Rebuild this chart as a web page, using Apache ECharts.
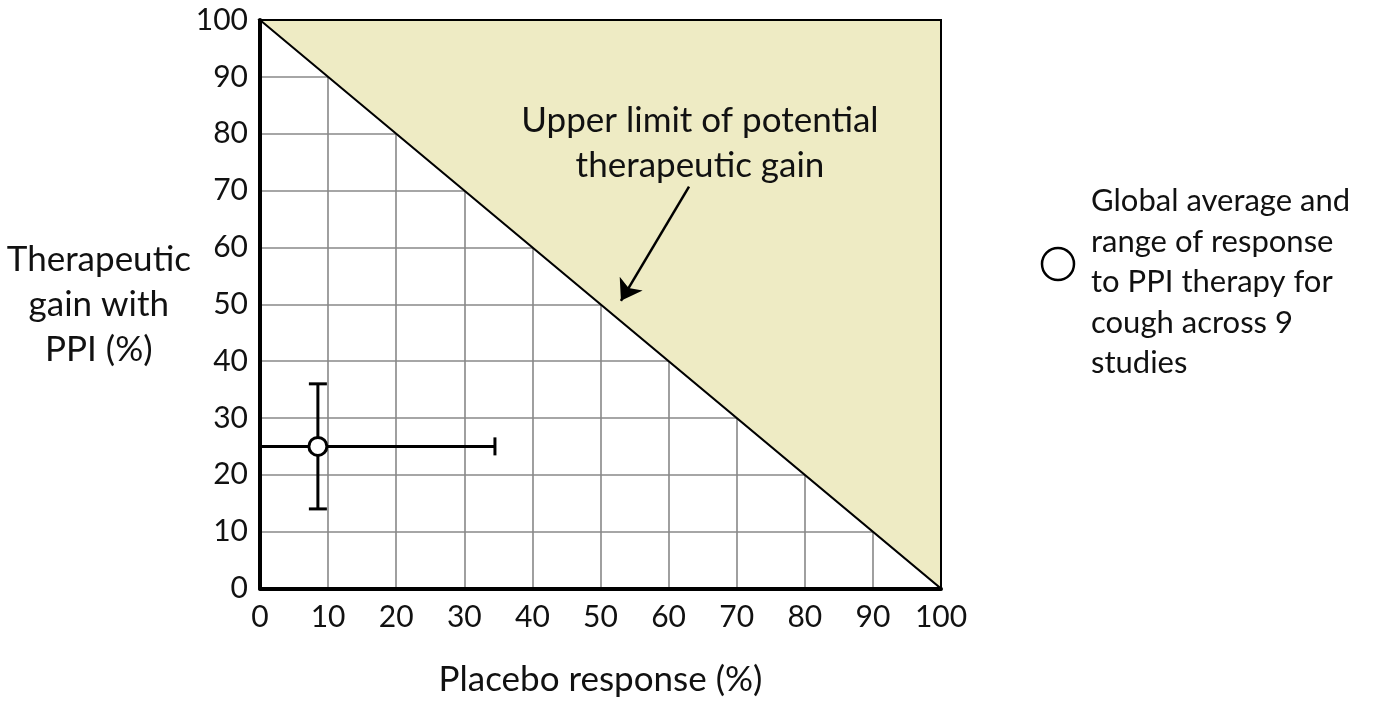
<!DOCTYPE html>
<html>
<head>
<meta charset="utf-8">
<script src="https://cdn.jsdelivr.net/npm/echarts@6/dist/echarts.min.js"></script>
<style>
  html, body { margin: 0; padding: 0; background: #fff; }
  #chart { width: 1375px; height: 702px; }
</style>
</head>
<body>
<div id="chart"></div>
<script>
// data
const pointX = [8.5];
const pointY = [25];
const xLow = [0];
const xHigh = [34.5];
const yLow = [14];
const yHigh = [36];

// region above the diagonal (upper limit of gain)
const limitX = [0, 100, 100];
const limitY = [100, 100, 0];

// annotation arrow, from text to the diagonal
const arrowFrom = [63, 70.7];
const arrowTo = [53, 50.6];

const axisMin = 0;
const axisMax = 100;
const tickStep = 10;

const FONT = 'Lato';

const chart = echarts.init(document.getElementById('chart'));

const option = {
  backgroundColor: '#ffffff',
  animation: false,
  textStyle: { fontFamily: FONT, color: '#111' },
  grid: { left: 260, right: 434, top: 20, bottom: 113 },
  xAxis: {
    type: 'value',
    min: axisMin, max: axisMax, interval: tickStep,
    name: 'Placebo response (%)',
    nameLocation: 'middle',
    nameGap: 91,
    nameTextStyle: { fontFamily: FONT, fontSize: 35, color: '#111', verticalAlign: 'middle' },
    axisLine: { show: true, onZero: false, lineStyle: { color: '#000', width: 4 } },
    axisTick: { show: false },
    axisLabel: { fontFamily: FONT, fontSize: 30, color: '#111', margin: 14 },
    splitLine: { show: true, lineStyle: { color: '#888', width: 1.6 } }
  },
  yAxis: {
    type: 'value',
    min: axisMin, max: axisMax, interval: tickStep,
    name: 'Therapeutic\ngain with\nPPI (%)',
    nameLocation: 'middle',
    nameRotate: 0,
    nameGap: 156,
    nameTextStyle: {
      fontFamily: FONT, fontSize: 35, color: '#111',
      align: 'center', verticalAlign: 'middle', lineHeight: 45,
      padding: [18, 0, 0, 0]
    },
    axisLine: { show: true, onZero: false, lineStyle: { color: '#000', width: 4 } },
    axisTick: { show: false },
    axisLabel: { fontFamily: FONT, fontSize: 30, color: '#111', margin: 12 },
    splitLine: { show: true, lineStyle: { color: '#888', width: 1.6 } }
  },
  series: [
    {
      // shaded triangle + its outline (top, right border and diagonal)
      type: 'custom',
      z: 2,
      silent: true,
      data: [0],
      renderItem: function (params, api) {
        const pts = limitX.map(function (x, i) { return api.coord([x, limitY[i]]); });
        return {
          type: 'polygon',
          shape: { points: pts },
          style: { fill: '#eeebc4', stroke: '#000', lineWidth: 2 }
        };
      }
    },
    {
      // error bars
      type: 'custom',
      z: 3,
      silent: true,
      data: pointX.map(function (x, i) { return [x, pointY[i], xLow[i], xHigh[i], yLow[i], yHigh[i]]; }),
      renderItem: function (params, api) {
        const l = api.coord([api.value(2), api.value(1)]);
        const r = api.coord([api.value(3), api.value(1)]);
        const b = api.coord([api.value(0), api.value(4)]);
        const t = api.coord([api.value(0), api.value(5)]);
        const cap = 9;
        const st = { stroke: '#000', lineWidth: 3 };
        return {
          type: 'group',
          children: [
            { type: 'line', shape: { x1: l[0], y1: l[1], x2: r[0], y2: r[1] }, style: st },
            { type: 'line', shape: { x1: r[0], y1: r[1] - cap, x2: r[0], y2: r[1] + cap }, style: st },
            { type: 'line', shape: { x1: b[0], y1: b[1], x2: t[0], y2: t[1] }, style: st },
            { type: 'line', shape: { x1: t[0] - cap, y1: t[1], x2: t[0] + cap, y2: t[1] }, style: st },
            { type: 'line', shape: { x1: b[0] - cap, y1: b[1], x2: b[0] + cap, y2: b[1] }, style: st }
          ]
        };
      }
    },
    {
      name: 'Global average',
      type: 'scatter',
      z: 4,
      symbol: 'circle',
      symbolSize: 18,
      itemStyle: { color: '#fff', borderColor: '#000', borderWidth: 3, opacity: 1 },
      data: pointX.map(function (x, i) { return [x, pointY[i]]; })
    },
    {
      type: 'lines',
      coordinateSystem: 'cartesian2d',
      z: 5,
      silent: true,
      symbol: ['none', 'arrow'],
      symbolSize: [14, 20],
      lineStyle: { color: '#000', width: 2.5, opacity: 1, curveness: 0 },
      data: [{ coords: [arrowFrom, arrowTo] }]
    }
  ],
  graphic: [
    {
      type: 'text',
      x: 700, y: 98,
      z: 10,
      style: {
        text: 'Upper limit of potential\ntherapeutic gain',
        font: '35px ' + FONT,
        fill: '#111',
        align: 'center',
        lineHeight: 45
      }
    },
    {
      type: 'circle',
      shape: { cx: 1058, cy: 264, r: 16 },
      style: { fill: 'none', stroke: '#000', lineWidth: 2.5 }
    },
    {
      type: 'text',
      x: 1091, y: 181,
      style: {
        text: 'Global average and\nrange of response\nto PPI therapy for\ncough across 9\nstudies',
        font: '31px ' + FONT,
        fill: '#111',
        lineHeight: 40.5
      }
    }
  ]
};

chart.setOption(option);
</script>
</body>
</html>
